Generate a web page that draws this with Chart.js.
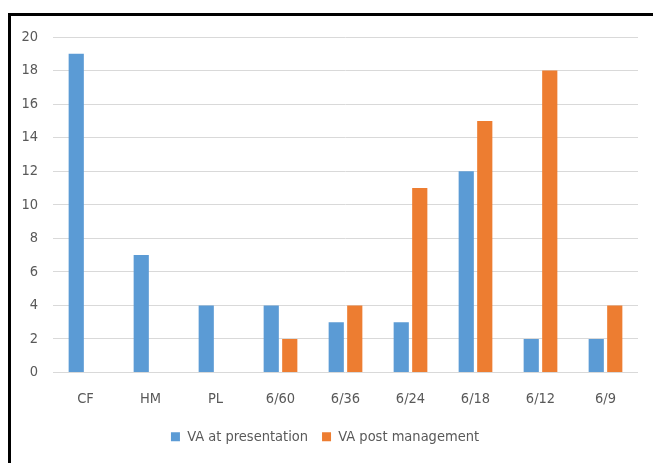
<!DOCTYPE html>
<html>
<head>
<meta charset="utf-8">
<script src="https://cdn.jsdelivr.net/npm/chart.js@4"></script>
<style>
  html, body { margin: 0; padding: 0; background: #fff; }
  #wrap { position: relative; width: 653px; height: 463px; overflow: hidden; }
  #frame { position: absolute; left: 8px; top: 13px; right: -10px; bottom: -10px;
           border-top: 3px solid #000; border-left: 3px solid #000; }
  #chart { position: absolute; left: 0; top: 0; }
</style>
</head>
<body>
<div id="wrap">
  <div id="frame"></div>
  <canvas id="chart" width="653" height="463"></canvas>
</div>
<script>
const categories = ['CF', 'HM', 'PL', '6/60', '6/36', '6/24', '6/18', '6/12', '6/9'];
const atPresentation = [19, 7, 4, 4, 3, 3, 12, 2, 2];
const postManagement = [null, null, null, 2, 4, 11, 15, 18, 4];
const yTicks = [0, 2, 4, 6, 8, 10, 12, 14, 16, 18, 20];

const labelFont = { family: "'DejaVu Sans Condensed', 'Open Sans', sans-serif", size: 14.5 };
const textColor = '#595959';

const ctx = document.getElementById('chart').getContext('2d');
const chart = new Chart(ctx, {
  type: 'bar',
  data: {
    labels: categories,
    datasets: [
      {
        label: 'VA at presentation',
        data: atPresentation,
        backgroundColor: '#5B9BD5',
        barPercentage: 0.82,
        categoryPercentage: 0.57
      },
      {
        label: 'VA post management',
        data: postManagement,
        backgroundColor: '#ED7D31',
        barPercentage: 0.82,
        categoryPercentage: 0.57
      }
    ]
  },
  options: {
    responsive: false,
    animation: false,
    devicePixelRatio: 1,
    layout: { padding: { left: 12, right: 15, top: 37, bottom: 9 } },
    plugins: {
      tooltip: { enabled: false },
      legend: {
        position: 'bottom',
        labels: {
          color: textColor,
          font: labelFont,
          boxWidth: 9,
          boxHeight: 9,
          padding: 14
        }
      }
    },
    scales: {
      x: {
        grid: { display: false },
        border: { display: false },
        ticks: { color: textColor, font: labelFont, padding: 10 },
        afterFit: (scale) => { scale.height = 43; }
      },
      y: {
        min: 0,
        max: 20,
        afterBuildTicks: (scale) => { scale.ticks = yTicks.map(v => ({ value: v })); },
        afterFit: (scale) => { scale.width = 41; },
        grid: { color: '#D9D9D9', drawTicks: false },
        border: { display: false },
        ticks: { color: textColor, font: labelFont, padding: 15 }
      }
    }
  }
});
</script>
</body>
</html>
